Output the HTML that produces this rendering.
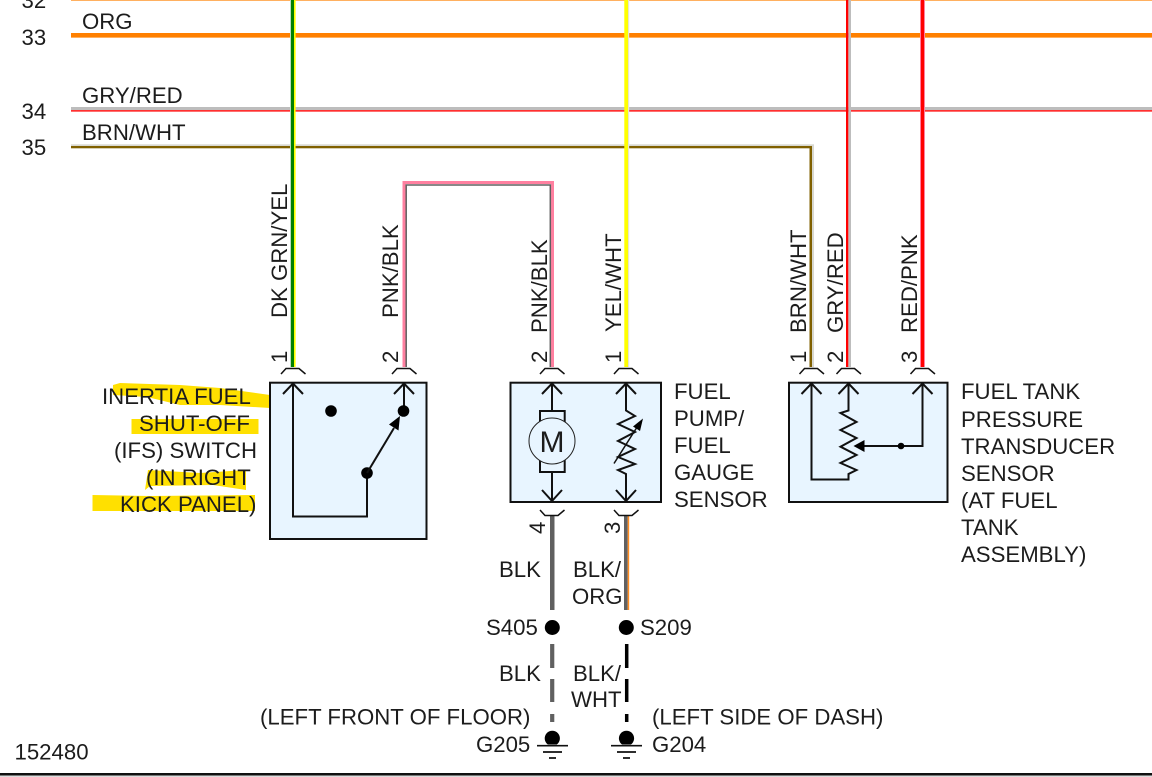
<!DOCTYPE html>
<html><head><meta charset="utf-8"><style>
html,body{margin:0;padding:0;background:#fff;width:1152px;height:777px;overflow:hidden}
svg{display:block}
text{font-family:"Liberation Sans",sans-serif;font-size:22.2px;fill:#1c1c1c}
.l{fill:none;stroke:#111;stroke-width:2}
</style></head><body>
<svg width="1152" height="777" viewBox="0 0 1152 777" xmlns="http://www.w3.org/2000/svg">
<rect width="1152" height="777" fill="#fff"/>
<!-- highlights -->
<g fill="#ffe000">
<path d="M113 385 L120 383 L180 385 L220 388 L270 395 L270 408 L220 405 L180 405 L147 397 L113 395Z"/>
<rect x="131.500" y="419" width="127" height="15"/>
<path d="M148 470 L200 473 L246 470 L246 490 L213 485 L150 486 L145 490Z"/>
<path d="M92.500 495 L150 496 L255 495 L255 511 L92.500 511Z"/>
</g>
<!-- horizontal wires -->
<rect x="71" y="0" width="1081" height="1" fill="#ffb060"/>
<rect x="71" y="37" width="1081" height="1" fill="#ffb060"/>
<rect x="71" y="33" width="1081" height="4" fill="#ff8000"/>
<rect x="71" y="107" width="1081" height="3.500" fill="#bdbdbd"/>
<rect x="71" y="110" width="1081" height="1.700" fill="#ff3030"/>
<rect x="71" y="144.300" width="741" height="2" fill="#d8d8d0"/>
<rect x="71" y="146" width="741" height="2.300" fill="#806000"/>
<!-- vertical wires -->
<rect x="290" y="0" width="1" height="367" fill="#bcd8bc"/>
<rect x="291" y="0" width="3" height="367" fill="#008000"/>
<rect x="294" y="0" width="1.600" height="367" fill="#ffff00"/>
<path d="M404 367V182.500H552.500V367" fill="none" stroke="#ff80a0" stroke-width="3"/>
<path d="M406.200 367V185H550.300V367" fill="none" stroke="#606060" stroke-width="1.500"/>
<rect x="628" y="0" width="1.200" height="367" fill="#e4e4e4"/>
<rect x="624.300" y="0" width="3.800" height="367" fill="#ffff00"/>
<rect x="812" y="144.300" width="2" height="223" fill="#d8d8d0"/>
<rect x="809.500" y="146" width="2.500" height="221" fill="#806000"/>
<rect x="848.300" y="0" width="2.700" height="367" fill="#bdbdbd"/>
<rect x="846" y="0" width="2.300" height="367" fill="#ff0000"/>
<rect x="920" y="0" width="5" height="367" fill="#ff80a0"/>
<rect x="921" y="0" width="3" height="367" fill="#ff0000"/>
<!-- lower wires -->
<rect x="550" y="516" width="4.500" height="94" fill="#606060"/>
<rect x="624" y="516" width="3.700" height="94" fill="#606060"/>
<rect x="627.700" y="516" width="1.500" height="94" fill="#ff8c20"/>
<path d="M552.200 644V668M552.200 679V702M552.200 714V722" stroke="#606060" stroke-width="4.200" fill="none"/>
<path d="M626.700 644V668M626.700 679V702M626.700 714V722" stroke="#000" stroke-width="3.500" fill="none"/>
<circle cx="552.300" cy="627.500" r="7.500" fill="#000"/>
<circle cx="626.300" cy="627.500" r="7.500" fill="#000"/>
<!-- grounds -->
<g fill="#000">
<path d="M547.800 744.500 A7.600 7.600 0 1 1 556.800 744.500Z"/>
<path d="M622 744.500 A7.600 7.600 0 1 1 631 744.500Z"/>
</g>
<path d="M537 745.700H568M543 752H562M549 758H556M611 745.700H642M617 752H636M623 758H630" stroke="#111" stroke-width="1.700" fill="none"/>
<!-- boxes -->
<g fill="#e8f5ff" stroke="#111" stroke-width="2">
<rect x="270" y="382.700" width="156.500" height="156.300"/>
<rect x="510.500" y="382.700" width="150.500" height="119.300"/>
<rect x="789" y="382.700" width="158.500" height="119.300"/>
</g>
<!-- connector caps -->
<g fill="none" stroke="#111" stroke-width="1.500">
<path d="M281 374 L286 368.500 H299 L305.500 374"/>
<path d="M392 374 L397 368.500 H410 L416.500 374"/>
<path d="M540 374 L545 368.500 H558 L564.500 374"/>
<path d="M614 374 L619 368.500 H632 L638.500 374"/>
<path d="M799.500 374 L804.500 368.500 H817.500 L824 374"/>
<path d="M836.500 374 L841.500 368.500 H854.500 L861 374"/>
<path d="M910.500 374 L915.500 368.500 H928.500 L935 374"/>
<path d="M540 510 L545 515.500 H558 L564.500 510"/>
<path d="M614 510 L619 515.500 H632 L638.500 510"/>
</g>
<!-- switch -->
<path class="l" d="M283 394L293 383.500L303 394M293 384V516.500H367V473"/>
<path class="l" d="M394 394L404 383.500L414 394M404 384V411"/>
<circle cx="331" cy="411" r="5.800" fill="#000"/>
<circle cx="403.500" cy="411" r="5.800" fill="#000"/>
<circle cx="367" cy="473" r="5.800" fill="#000"/>
<path class="l" d="M367 473L394 428"/>
<path d="M400 416L398.500 430.500L389 424.500Z" fill="#000"/>
<!-- motor -->
<path class="l" d="M542 394L552 383.500L562 394M552 384V411M552 472V501M542 490L552 501L562 490"/>
<rect x="540" y="411" width="24.700" height="61" fill="none" stroke="#111" stroke-width="2"/>
<circle cx="552" cy="441" r="23" fill="#e8f5ff" stroke="#222" stroke-width="1"/>
<text x="552" y="452" text-anchor="middle" style="font-size:30px">M</text>
<!-- variable resistor -->
<path class="l" d="M616 394L626 383.500L636 394M626 384V410.500L635 416L618 424L635 432L618 441L635 449L618 457L635 464L618 470L626 474V501M616 490L626 501L636 490"/>
<path d="M614 463.500L639 424" fill="none" stroke="#111" stroke-width="1.500"/>
<path d="M643 418.500L640 431L633 426.500Z" fill="#000"/>
<!-- transducer -->
<path class="l" d="M801.500 394L811.500 383.500L821.500 394M811.500 384V479.500H848.500V474L856.500 470L840.500 463L856.500 455L840.500 446.700L856.500 438L840.500 430L856.500 422L840.500 413L848.500 410.500V384M838.500 394L848.500 383.500L858.500 394"/>
<path class="l" d="M912.500 394L922.500 383.500L932.500 394M922.500 384V446H864"/>
<path d="M853.500 446L864.500 440V452Z" fill="#000"/>
<circle cx="901" cy="446" r="3.300" fill="#000"/>
<!-- bottom rule -->
<rect x="0" y="773" width="1152" height="2.500" fill="#111"/>
<rect x="0" y="775.500" width="1152" height="1.500" fill="#ddd"/>
<!-- text -->
<text x="21.500" y="8">32</text>
<text x="21.500" y="45">33</text>
<text x="21.500" y="119">34</text>
<text x="21.500" y="155">35</text>
<text x="82" y="29">ORG</text>
<text x="82" y="103">GRY/RED</text>
<text x="82" y="140">BRN/WHT</text>
<text transform="translate(287 318) rotate(-90)">DK GRN/YEL</text>
<text transform="translate(398 318) rotate(-90)">PNK/BLK</text>
<text transform="translate(547 333) rotate(-90)">PNK/BLK</text>
<text transform="translate(621 332) rotate(-90)">YEL/WHT</text>
<text transform="translate(806 333) rotate(-90)">BRN/WHT</text>
<text transform="translate(843 333) rotate(-90)">GRY/RED</text>
<text transform="translate(917 333) rotate(-90)">RED/PNK</text>
<text transform="translate(287 363) rotate(-90)">1</text>
<text transform="translate(398 363) rotate(-90)">2</text>
<text transform="translate(547 363) rotate(-90)">2</text>
<text transform="translate(621 363) rotate(-90)">1</text>
<text transform="translate(806 363) rotate(-90)">1</text>
<text transform="translate(843 363) rotate(-90)">2</text>
<text transform="translate(917 363) rotate(-90)">3</text>
<text transform="translate(545 534) rotate(-90)">4</text>
<text transform="translate(620 534) rotate(-90)">3</text>
<text x="102" y="404">INERTIA FUEL</text>
<text x="139" y="431">SHUT-OFF</text>
<text x="114" y="458">(IFS) SWITCH</text>
<text x="146" y="485">(IN RIGHT</text>
<text x="120" y="512">KICK PANEL)</text>
<text x="674" y="399">FUEL</text>
<text x="674" y="426">PUMP/</text>
<text x="674" y="453">FUEL</text>
<text x="674" y="480">GAUGE</text>
<text x="674" y="507">SENSOR</text>
<text x="961" y="399">FUEL TANK</text>
<text x="961" y="427">PRESSURE</text>
<text x="961" y="454">TRANSDUCER</text>
<text x="961" y="481">SENSOR</text>
<text x="961" y="508">(AT FUEL</text>
<text x="961" y="535">TANK</text>
<text x="961" y="562">ASSEMBLY)</text>
<text x="499" y="577">BLK</text>
<text x="573" y="577">BLK/</text>
<text x="572" y="604">ORG</text>
<text x="486" y="635">S405</text>
<text x="640" y="635">S209</text>
<text x="499" y="681">BLK</text>
<text x="573" y="681">BLK/</text>
<text x="571" y="707">WHT</text>
<text x="260" y="724.500">(LEFT FRONT OF FLOOR)</text>
<text x="652" y="724.500">(LEFT SIDE OF DASH)</text>
<text x="476" y="752">G205</text>
<text x="652" y="752">G204</text>
<text x="14.500" y="759.500">152480</text>
</svg>
</body></html>
